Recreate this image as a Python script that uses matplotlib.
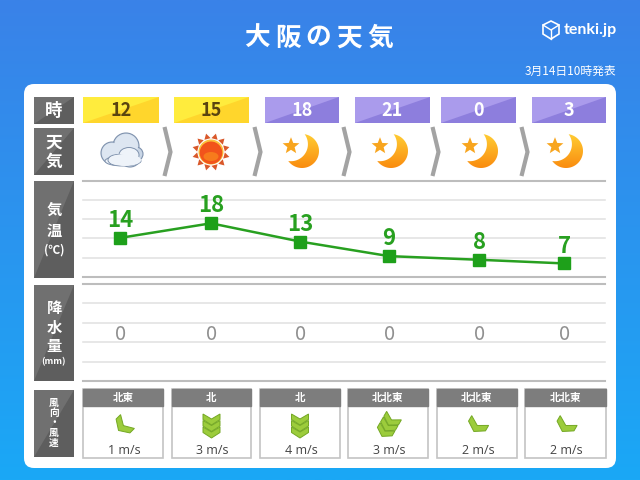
import matplotlib
matplotlib.use("Agg")
import matplotlib.pyplot as plt
from matplotlib.patches import Rectangle, Polygon, FancyBboxPatch, Ellipse, Circle
import numpy as np

plt.rcParams['font.family'] = ['Noto Sans CJK JP', 'DejaVu Sans']

horas = ["12", "15", "18", "21", "0", "3"]
es_dia = [True, True, False, False, False, False]
cielo = ["nube", "sol", "luna", "luna", "luna", "luna"]
temperaturas = [14, 18, 13, 9, 8, 7]
lluvia = [0, 0, 0, 0, 0, 0]
viento_dir = ["北東", "北", "北", "北北東", "北北東", "北北東"]
viento_grados = [45, 0, 0, 30, 30, 30]
viento_vel = [1, 3, 4, 3, 2, 2]
viento_flechas = [1, 3, 3, 3, 1, 1]

# columnas en pixeles
centros = [120, 211, 300, 389, 479, 564]
cajas_hora = [(83, 159), (174, 249), (265, 339), (355, 430), (441, 516), (532, 606)]
cajas_viento = [(83, 163), (172, 251), (260, 340), (348, 428), (437, 517), (525, 606)]

fig = plt.figure(figsize=(6.4, 4.8), dpi=100)
ax = fig.add_axes([0, 0, 1, 1])
ax.axis('off')

# fondo azul
grad = np.linspace(0, 1, 256).reshape(-1, 1)
arriba = np.array([58, 130, 232]) / 255
abajo = np.array([26, 168, 246]) / 255
img = arriba + (abajo - arriba) * grad[..., None]
ax.imshow(img, extent=[0, 640, 480, 0], aspect='auto', zorder=0)

ax.add_patch(FancyBboxPatch((34, 94), 572, 364, boxstyle="round,pad=10,rounding_size=10", fc='white', ec='none', zorder=1))

# titulo con letras separadas
for letra, x in zip("大阪の天気", [257, 288, 318, 349, 380]):
    ax.text(x, 38, letra, color='white', fontsize=18.5, fontweight='bold', ha='center', va='center', zorder=5)
ax.text(616, 71.5, "3月14日10時発表", color='white', fontsize=8.5, ha='right', va='center', zorder=5)
ax.text(590, 30, "tenki.jp", color='white', fontsize=11.5, fontweight='bold', ha='center', va='center', zorder=5, family=['Lato', 'DejaVu Sans'])

# logo cubo
ax.add_patch(Polygon([(551, 21), (559, 25), (559, 34), (551, 39), (543, 34), (543, 25)], closed=True, fc='none', ec='white', lw=1.2, zorder=5))
ax.plot([543, 551, 559], [25, 30, 25], color='white', lw=1, zorder=5)
ax.plot([551, 551], [30, 39], color='white', lw=1, zorder=5)


def caja_diagonal(x0, x1, y0, y1, c1, c2):
    ax.add_patch(Rectangle((x0, y0), x1 - x0, y1 - y0, fc=c1, ec='none', zorder=2))
    ax.add_patch(Polygon([(x0, y1), (x1, y0), (x1, y1)], closed=True, fc=c2, ec='none', zorder=2))


# etiquetas grises de la izquierda
def etiqueta(y0, y1, lineas):
    caja_diagonal(34, 74, y0, y1, '#707070', '#5e5e5e')
    for txt, yy, fs in lineas:
        ax.text(54, yy, txt, color='white', fontsize=fs, fontweight='bold', ha='center', va='center', zorder=5)


etiqueta(97, 124, [("時", 110.5, 12.5)])
etiqueta(128, 175, [("天", 143, 12), ("気", 162, 12)])
etiqueta(181, 278, [("気", 210, 11), ("温", 231, 11), ("(℃)", 250, 8.5)])
etiqueta(285, 381, [("降", 308, 11), ("水", 328, 11), ("量", 346, 11), ("(mm)", 362, 6.5)])
etiqueta(390, 457, [("風", 403, 7), ("向", 413, 7), ("・", 423, 7), ("風", 433, 7), ("速", 443, 7)])

# cabeceras de hora
for h, (x0, x1), dia, cx in zip(horas, cajas_hora, es_dia, centros):
    if dia:
        caja_diagonal(x0, x1, 97, 123, '#ffec3d', '#ffd62c')
        col = '#5a4410'
    else:
        caja_diagonal(x0, x1, 97, 123, '#aa9bec', '#8d7edd')
        col = 'white'
    ax.text((x0 + x1) / 2, 110.5, h, color=col, fontsize=13, fontweight='bold', ha='center', va='center', zorder=5)

# flechas grises entre columnas
for x in [165, 255, 344, 433, 522]:
    ax.plot([x, x + 5.5, x], [129, 152, 174], color='#a3a3a3', lw=3, zorder=3, solid_joinstyle='miter')


def dibuja_nube(cx, cy):
    for dx, dy, r in [(5, -6, 13), (-9, 1, 11), (9, 4, 11), (15, 2, 7)]:
        ax.add_patch(Circle((cx + dx, cy + dy), r, fc='#c9d6e6', ec='#7f92ad', lw=0.8, zorder=3))
    for dx, dy, r in [(5, -6, 12), (-9, 1, 10)]:
        ax.add_patch(Circle((cx + dx, cy + dy), r, fc='#dde6f1', ec='none', zorder=3))
    for dx, dy, w, h in [(2, 9, 36, 10), (8, 3, 20, 15), (-3, 8, 20, 11)]:
        ax.add_patch(Ellipse((cx + dx, cy + dy), w, h, fc='#eef3f9', ec='#7f92ad', lw=0.7, zorder=4))
    ax.add_patch(Ellipse((cx + 4, cy + 8), 32, 12, fc='#eef3f9', ec='none', zorder=4))


def dibuja_sol(cx, cy):
    for a in np.arange(0, 360, 30) + 15:
        t = np.radians(a)
        n = np.array([np.cos(t), np.sin(t)])
        p = np.array([-n[1], n[0]])
        c = np.array([cx, cy])
        ax.add_patch(Polygon([c + 19 * n, c + 13.5 * n + 3.2 * p, c + 13.5 * n - 3.2 * p], closed=True, fc='#d9582a', ec='none', zorder=3))
    ax.add_patch(Circle((cx, cy), 12.5, fc='#fbc13c', ec='none', zorder=3))
    ax.add_patch(Circle((cx, cy + 0.8), 11.3, fc='#f2541b', ec='none', zorder=4))
    ax.add_patch(Ellipse((cx, cy + 4.5), 15, 9, fc='#f77b1c', ec='none', zorder=4))


def dibuja_luna(cx, cy):
    # creciente: circulo grande menos circulo corrido, con degradado
    ox, oy = cx + 2, cy - 1
    R = 17.0
    ang = np.radians(-148.5)
    d = 13.0
    r = 17.0
    ix, iy = ox + d * np.cos(ang), oy + d * np.sin(ang)
    medio = np.arccos((d * d + R * R - r * r) / (2 * d * R))
    t1 = np.linspace(ang + medio, ang + 2 * np.pi - medio, 60)
    ext = np.c_[ox + R * np.cos(t1), oy + R * np.sin(t1)]
    p0 = ext[-1]
    p1 = ext[0]
    a0 = np.arctan2(p0[1] - iy, p0[0] - ix)
    a1 = np.arctan2(p1[1] - iy, p1[0] - ix)
    if a1 > a0:
        a1 -= 2 * np.pi
    t2 = np.linspace(a0, a1, 40)
    inn = np.c_[ix + r * np.cos(t2), iy + r * np.sin(t2)]
    forma = Polygon(np.r_[ext, inn], closed=True, fc='none', ec='none', transform=ax.transData)
    ax.add_patch(forma)
    tono = np.linspace(0, 1, 64).reshape(-1, 1, 1)
    c_a = np.array([1.0, 0.80, 0.20])
    c_b = np.array([0.98, 0.55, 0.06])
    g = ax.imshow(c_a + (c_b - c_a) * tono, extent=[ox - R, ox + R, oy + R, oy - R], aspect='auto', zorder=3)
    g.set_clip_path(forma)
    a = np.radians(np.arange(-90, 270, 36))
    rr = np.where(np.arange(10) % 2 == 0, 8.8, 3.8)
    sx = cx - 9 + rr * np.cos(a)
    sy = cy - 6 + rr * np.sin(a)
    ax.add_patch(Polygon(np.c_[sx, sy], closed=True, fc='#f8a51e', ec='none', zorder=4))


for tipo, cx in zip(cielo, centros):
    if tipo == "nube":
        dibuja_nube(cx + 1, 152)
    elif tipo == "sol":
        dibuja_sol(cx, 152)
    else:
        dibuja_luna(cx, 152)

# rejillas
lineas_temp = [181, 200, 219, 238, 258, 277]
lineas_lluvia = [284, 303, 323, 342, 362, 381]
for ys in (lineas_temp, lineas_lluvia):
    for i, y in enumerate(ys):
        extremo = i == 0 or i == len(ys) - 1
        ax.plot([83, 605], [y, y], color='#bdbdbd' if extremo else '#e0e0e0', lw=1.5 if extremo else 1.1, zorder=2)

# temperatura: eje propio sobre su banda de pixeles
ax_t = fig.add_axes([0, 1 - 278 / 480, 1, 97 / 480])
ax_t.set_xlim(0, 640)
ax_t.set_ylim(3.0, 29.6)
ax_t.axis('off')
ax_t.patch.set_alpha(0)
ax_t.plot(centros, temperaturas, color='#28a020', lw=1.8, marker='s', ms=8, mfc='#1ea01a', mec='#1ea01a')
for x, t in zip(centros, temperaturas):
    ax_t.annotate(str(t), (x, t), xytext=(0, 12.5), textcoords='offset points', color='#28a020', fontsize=16,
                  fontweight='bold', ha='center', va='center')

# lluvia
for x, v in zip(centros, lluvia):
    ax.text(x + 1, 334, str(v), color='#8f8f8f', fontsize=14.5, ha='center', va='center', zorder=5)


# chevrones de viento
def chevrones(cx, cy, grados, n, escala):
    base = np.array([(-8.5, -5.5), (0, -0.5), (8.5, -5.5), (8.5, 0), (0, 5.5), (-8.5, 0)], dtype=float) * escala
    t = np.radians(grados)
    rot = np.array([[np.cos(t), -np.sin(t)], [np.sin(t), np.cos(t)]])
    for k in range(n):
        off = (k - (n - 1) / 2) * 6.5
        pts = base + np.array([0, off])
        pts = pts @ rot.T + np.array([cx, cy])
        ax.add_patch(Polygon(pts, closed=True, fc='#9ccc3c', ec='#74a824', lw=0.7, zorder=4 + k * 0.01))


for (x0, x1), d, g, v, n in zip(cajas_viento, viento_dir, viento_grados, viento_vel, viento_flechas):
    ax.add_patch(Rectangle((x0, 389), x1 - x0, 69, fc='white', ec='#c4c4c4', lw=1.2, zorder=2))
    ax.add_patch(Rectangle((x0, 389), x1 - x0, 17, fc='#7d7d7d', ec='#7d7d7d', lw=1, zorder=3))
    cx = (x0 + x1) / 2
    ax.text(cx, 398, d, color='white', fontsize=7.6, fontweight='bold', ha='center', va='center', zorder=5)
    chevrones(cx, 426, g, n, 1.15 if n == 1 else 1.0)
    ax.text(cx + 1, 451, f"{v} m/s", color='#444444', fontsize=9, ha='center', va='center', zorder=5, family=['Open Sans', 'DejaVu Sans'])

ax.set_xlim(0, 640)
ax.set_ylim(480, 0)

fig.savefig("out.png", dpi=100)
